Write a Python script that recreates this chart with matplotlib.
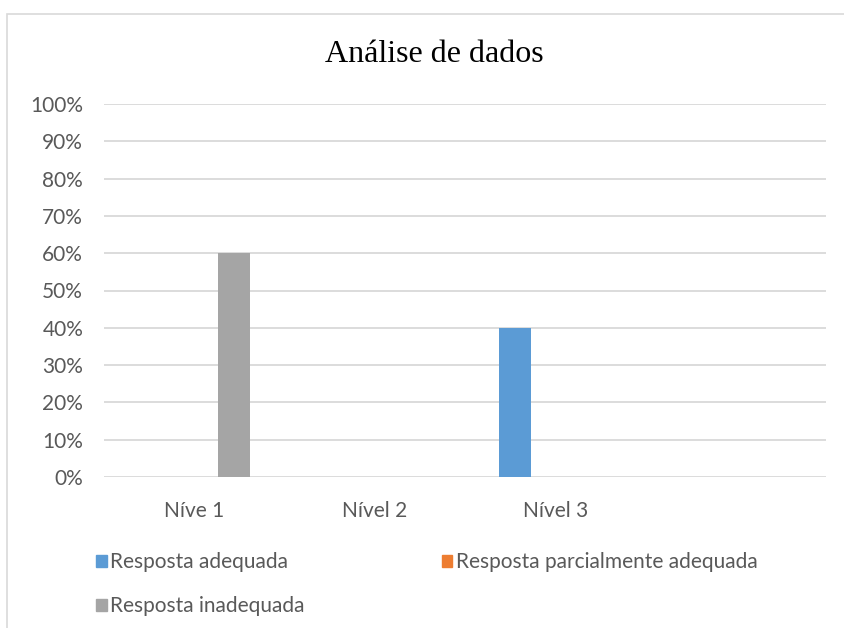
import numpy as np
import matplotlib.pyplot as plt
from matplotlib.patches import Rectangle, Patch


categories = ["Níve 1", "Nível 2", "Nível 3", ""]
series_names = ["Resposta adequada", "Resposta parcialmente adequada", "Resposta inadequada"]
adequada = [0.0, 0.0, 0.40, 0.0]
parcial = [0.0, 0.0, 0.0, 0.0]
inadequada = [0.60, 0.0, 0.0, 0.0]
colors = ["#5B9BD5", "#ED7D31", "#A5A5A5"]
yticks = np.arange(0, 1.01, 0.1)


def main():
    plt.rcParams["font.family"] = ["Lato", "DejaVu Sans"]
    fig = plt.figure(figsize=(8.44, 6.28), dpi=100)
    ax = fig.add_axes([104 / 844, 151 / 628, 722 / 844, 373 / 628])

    # chart frame (only left/top edges visible in the crop)
    fig.patches.append(Rectangle((7 / 844, -0.1), 1.2, (628 - 14) / 628 + 0.1,
                                 transform=fig.transFigure, fill=False,
                                 edgecolor="#D9D9D9", linewidth=1.2))

    x = np.arange(len(categories))
    width = 0.177
    offset = 0.222
    for i, (vals, name, color) in enumerate(zip([adequada, parcial, inadequada], series_names, colors)):
        ax.bar(x + (i - 1) * offset, vals, width=width, color=color, label=name, zorder=3)

    ax.set_xlim(-0.5, len(categories) - 0.5)
    ax.set_ylim(0, 1)
    ax.set_yticks(yticks)
    ax.set_yticklabels([f"{int(round(v * 100))}%" for v in yticks])
    ax.set_xticks(x)
    ax.set_xticklabels(categories)
    ax.grid(axis="y", color="#D9D9D9", linewidth=1.3, zorder=0)
    for s in ax.spines.values():
        s.set_visible(False)
    ax.tick_params(length=0, colors="#595959", labelsize=15)
    ax.tick_params(axis="y", pad=15)
    ax.tick_params(axis="x", pad=17)

    fig.text(434 / 844, 1 - 55 / 628, "Análise de dados", ha="center", va="center",
             family="Liberation Serif", fontsize=23, color="black")

    handles = [Patch(color=colors[0]), Patch(color=colors[2]), Patch(color=colors[1])]
    labels = [series_names[0], series_names[2], series_names[1]]
    fig.legend(handles, labels, ncol=2, loc="upper left", bbox_to_anchor=(86 / 844, 1 - 542 / 628),
               frameon=False, fontsize=15, labelcolor="#595959", handlelength=0.5,
               handleheight=0.5, handletextpad=0.15, columnspacing=6.6, labelspacing=1.15,
               borderpad=0)

    fig.savefig("out.png", dpi=100)
    plt.close(fig)


if __name__ == "__main__":
    main()
